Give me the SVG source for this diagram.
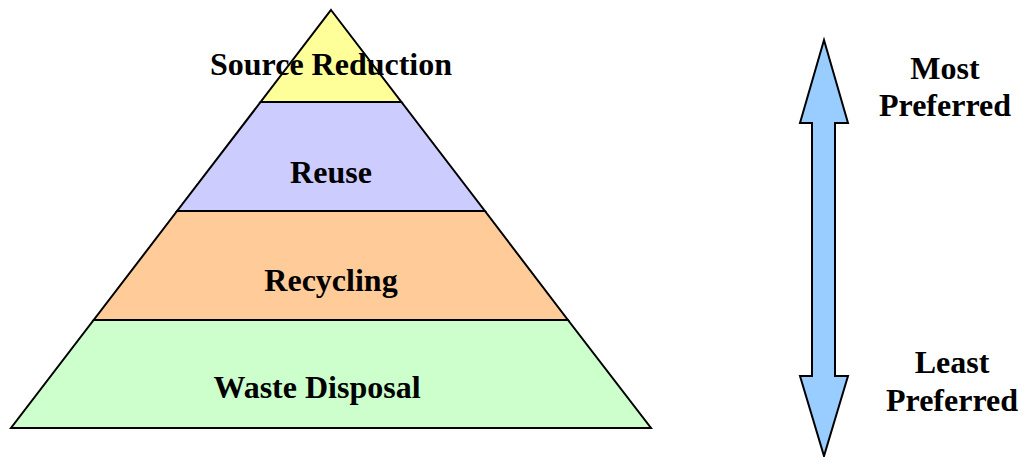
<svg xmlns="http://www.w3.org/2000/svg" width="1027" height="457" viewBox="0 0 1027 457">
<style>
.layer{stroke:#000;stroke-width:2;stroke-linejoin:miter}
.t{font-family:"Liberation Serif","Times New Roman",serif;font-weight:bold;font-size:32px;fill:#000;text-anchor:middle}
</style>
<rect width="1027" height="457" fill="#fff"/>
<g id="waste-disposal">
<polygon class="layer" fill="#CCFFCC" points="93.7,320 567.9,320 651,428 11,428"/>
<text class="t" x="317" y="398">Waste Disposal</text>
</g>
<g id="recycling">
<polygon class="layer" fill="#FFCC99" points="177.1,211 484.9,211 567.9,320 93.7,320"/>
<text class="t" x="331" y="291">Recycling</text>
</g>
<g id="reuse">
<polygon class="layer" fill="#CCCCFF" points="260.6,102 401.4,102 484.9,211 177.1,211"/>
<text class="t" x="331" y="183">Reuse</text>
</g>
<g id="source-reduction">
<polygon class="layer" fill="#FFFF99" points="331,10 401.4,102 260.6,102"/>
<text class="t" x="331" y="75">Source Reduction</text>
</g>
<g id="connectors">
<polygon id="preference-arrow" fill="#99CCFF" stroke="#000" stroke-width="2" points="824,40 848,123 835,123 835,376 848,376 824,456 800,376 812,376 812,123 800,123"/>
</g>
<g id="most-preferred">
<text class="t" x="945" y="79">Most</text>
<text class="t" x="945" y="116">Preferred</text>
</g>
<g id="least-preferred">
<text class="t" x="952" y="373">Least</text>
<text class="t" x="952" y="411">Preferred</text>
</g>
</svg>
